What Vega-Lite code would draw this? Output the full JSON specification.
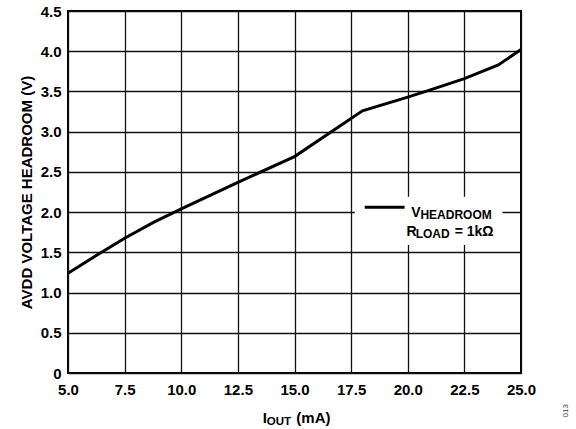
{
  "$schema": "https://vega.github.io/schema/vega-lite/v6.json",
  "width": 453,
  "height": 362,
  "autosize": {"type": "none"},
  "padding": {"left": 68, "top": 11, "right": 55, "bottom": 56},
  "background": "white",
  "config": {
    "font": "Liberation Sans",
    "view": {"stroke": "black", "strokeWidth": 2},
    "axis": {
      "grid": true,
      "gridColor": "#111",
      "gridWidth": 1.3,
      "gridOpacity": 1,
      "domain": false,
      "ticks": false,
      "labelFont": "Liberation Sans",
      "labelFontSize": 15,
      "labelFontWeight": "bold",
      "labelColor": "black",
      "titleFont": "Liberation Sans",
      "titleFontSize": 15,
      "titleFontWeight": "bold",
      "titleColor": "black"
    }
  },
  "layer": [
    {
      "data": {"values": [
        {"iout": 5, "v": 1.24},
        {"iout": 6.3, "v": 1.47},
        {"iout": 7.5, "v": 1.675},
        {"iout": 8.75, "v": 1.87},
        {"iout": 10, "v": 2.04},
        {"iout": 12.5, "v": 2.37},
        {"iout": 15, "v": 2.69},
        {"iout": 18, "v": 3.26},
        {"iout": 20, "v": 3.43},
        {"iout": 21, "v": 3.52},
        {"iout": 22.5, "v": 3.66},
        {"iout": 24, "v": 3.83},
        {"iout": 25, "v": 4.02}
      ]},
      "mark": {"type": "line", "color": "black", "strokeWidth": 3},
      "encoding": {
        "x": {
          "field": "iout", "type": "quantitative",
          "scale": {"domain": [5, 25], "nice": false, "zero": false},
          "axis": {
            "values": [5, 7.5, 10, 12.5, 15, 17.5, 20, 22.5, 25],
            "format": ".1f",
            "labelPadding": 9,
            "labelFlush": false,
            "title": null
          }
        },
        "y": {
          "field": "v", "type": "quantitative",
          "scale": {"domain": [0, 4.5], "nice": false},
          "axis": {
            "values": [0, 0.5, 1, 1.5, 2, 2.5, 3, 3.5, 4, 4.5],
            "labelExpr": "datum.value == 0 ? '0' : format(datum.value, '.1f')",
            "labelPadding": 7,
            "labelFlush": false,
            "title": "AVDD VOLTAGE HEADROOM (V)",
            "titlePadding": 6
          }
        }
      }
    },
    {
      "data": {"values": [{}]},
      "mark": {"type": "rect", "color": "white"},
      "encoding": {
        "x": {"datum": 17.66},
        "x2": {"datum": 24.18},
        "y": {"datum": 2.19},
        "y2": {"datum": 1.59}
      }
    },
    {
      "data": {"values": [{}]},
      "mark": {"type": "rule", "color": "black", "strokeWidth": 3},
      "encoding": {
        "x": {"datum": 18.1},
        "x2": {"datum": 19.86},
        "y": {"datum": 2.06}
      }
    },
    {
      "data": {"values": [{}]},
      "mark": {"type": "text", "align": "left", "baseline": "alphabetic", "fontSize": 14, "fontWeight": "bold", "color": "black"},
      "encoding": {"x": {"datum": 20.15}, "y": {"datum": 1.94}, "text": {"value": "V"}}
    },
    {
      "data": {"values": [{}]},
      "mark": {"type": "text", "align": "left", "baseline": "alphabetic", "fontSize": 12, "fontWeight": "bold", "color": "black"},
      "encoding": {"x": {"datum": 20.56}, "y": {"datum": 1.91}, "text": {"value": "HEADROOM"}}
    },
    {
      "data": {"values": [{}]},
      "mark": {"type": "text", "align": "left", "baseline": "alphabetic", "fontSize": 14, "fontWeight": "bold", "color": "black"},
      "encoding": {"x": {"datum": 19.94}, "y": {"datum": 1.707}, "text": {"value": "R"}}
    },
    {
      "data": {"values": [{}]},
      "mark": {"type": "text", "align": "left", "baseline": "alphabetic", "fontSize": 12, "fontWeight": "bold", "color": "black"},
      "encoding": {"x": {"datum": 20.35}, "y": {"datum": 1.675}, "text": {"value": "LOAD"}}
    },
    {
      "data": {"values": [{}]},
      "mark": {"type": "text", "align": "left", "baseline": "alphabetic", "fontSize": 14, "fontWeight": "bold", "color": "black"},
      "encoding": {"x": {"datum": 22.07}, "y": {"datum": 1.707}, "text": {"value": "= 1kΩ"}}
    },
    {
      "data": {"values": [{}]},
      "mark": {"type": "text", "align": "left", "baseline": "alphabetic", "fontSize": 15, "fontWeight": "bold", "color": "black"},
      "encoding": {"x": {"datum": 13.6}, "y": {"datum": -0.62}, "text": {"value": "I"}}
    },
    {
      "data": {"values": [{}]},
      "mark": {"type": "text", "align": "left", "baseline": "alphabetic", "fontSize": 11.5, "fontWeight": "bold", "color": "black"},
      "encoding": {"x": {"datum": 13.78}, "y": {"datum": -0.65}, "text": {"value": "OUT"}}
    },
    {
      "data": {"values": [{}]},
      "mark": {"type": "text", "align": "left", "baseline": "alphabetic", "fontSize": 15, "fontWeight": "bold", "color": "black"},
      "encoding": {"x": {"datum": 15.08}, "y": {"datum": -0.62}, "text": {"value": "(mA)"}}
    },
    {
      "data": {"values": [{}]},
      "mark": {"type": "text", "align": "center", "baseline": "middle", "angle": 270, "fontSize": 8, "color": "#444"},
      "encoding": {"x": {"datum": 27.0}, "y": {"datum": -0.47}, "text": {"value": "013"}}
    }
  ]
}
